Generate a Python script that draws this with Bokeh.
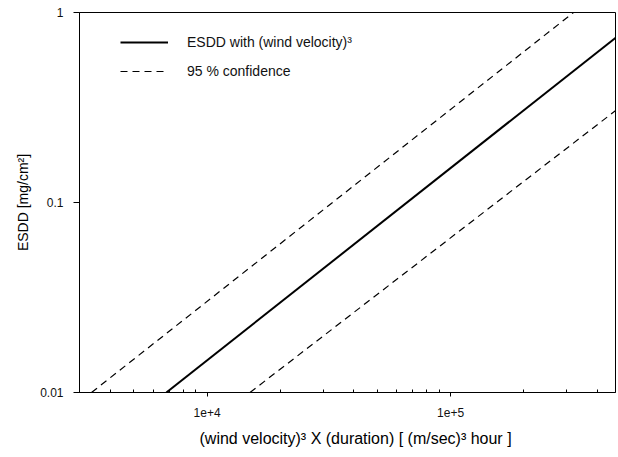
from bokeh.plotting import figure
from bokeh.models import Range1d, FixedTicker, Legend, LegendItem, Title
from bokeh.embed import file_html
from bokeh.resources import INLINE

# Data
esdd_x = [6800, 485000]
esdd_y = [0.01, 0.75]
upper_x = [3350, 320000]
upper_y = [0.01, 1.0]
lower_x = [15000, 485000]
lower_y = [0.01, 0.31]

x_major = [1e4, 1e5]
x_major_labels = ["1e+4", "1e+5"]
x_minor = [3000, 4000, 5000, 6000, 7000, 8000, 9000,
           20000, 30000, 40000, 50000, 60000, 70000, 80000, 90000,
           200000, 300000, 400000]
y_major = [0.01, 0.1, 1.0]
y_major_labels = ["0.01", "0.1", "1"]

legend_labels = ["ESDD with (wind velocity)\u00b3", "95 % confidence"]
x_title = "(wind velocity)\u00b3 X (duration) [ (m/sec)\u00b3 hour ]"
y_title = "ESDD [mg/cm\u00b2]"

FONT = "Liberation Sans"

p = figure(width=618, height=457, x_axis_type="log", y_axis_type="log",
           x_range=Range1d(2990, 476000), y_range=Range1d(0.01, 1.0),
           output_backend="svg", toolbar_location=None,
           min_border_left=79, min_border_right=3, min_border_top=12,
           min_border_bottom=65)

p.grid.visible = False
p.outline_line_color = "black"
p.outline_line_width = 1
p.background_fill_color = "white"
p.border_fill_color = "white"

r1 = p.line(esdd_x, esdd_y, line_color="black", line_width=2)
r2 = p.line(upper_x, upper_y, line_color="black", line_width=1.2, line_dash="7 5")
r3 = p.line(lower_x, lower_y, line_color="black", line_width=1.2, line_dash="7 5")

xa = p.xaxis[0]
xa.ticker = FixedTicker(ticks=x_major, minor_ticks=x_minor)
xa.major_label_overrides = {v: l for v, l in zip(x_major, x_major_labels)}
xa.major_tick_out = 4
xa.major_tick_in = 0
xa.minor_tick_in = 3
xa.minor_tick_out = 0
xa.major_label_standoff = 11

ya = p.yaxis[0]
ya.ticker = FixedTicker(ticks=y_major, minor_ticks=[])
ya.major_label_overrides = {v: l for v, l in zip(y_major, y_major_labels)}
ya.major_tick_out = 6
ya.major_tick_in = 0
ya.minor_tick_in = 0
ya.minor_tick_out = 0
ya.major_label_standoff = 10

for ax in (xa, ya):
    ax.axis_line_color = "black"
    ax.major_tick_line_color = "black"
    ax.minor_tick_line_color = "black"
    ax.major_label_text_font = FONT
    ax.major_label_text_font_size = "12px"
    ax.major_label_text_color = "#111111"

xtitle = Title(text=x_title, align="left", offset=120, standoff=16,
               vertical_align="bottom",
               text_font=FONT, text_font_size="16px",
               text_font_style="normal", text_color="black")
p.add_layout(xtitle, "below")

ytitle = Title(text=y_title, align="center", offset=19, standoff=14,
               text_font=FONT, text_font_size="14px",
               text_font_style="normal", text_color="black")
p.add_layout(ytitle, "left")

legend = Legend(items=[LegendItem(label=legend_labels[0], renderers=[r1]),
                       LegendItem(label=legend_labels[1], renderers=[r2])],
                location=(41, 313))
legend.border_line_alpha = 0
legend.background_fill_alpha = 0
legend.padding = 0
legend.margin = 0
legend.glyph_width = 48
legend.glyph_height = 14
legend.label_height = 14
legend.spacing = 13
legend.label_standoff = 19
legend.label_text_font = FONT
legend.label_text_font_size = "14px"
legend.label_text_color = "#111111"
p.add_layout(legend, "center")

open("out.html", "w").write(file_html(p, INLINE))
